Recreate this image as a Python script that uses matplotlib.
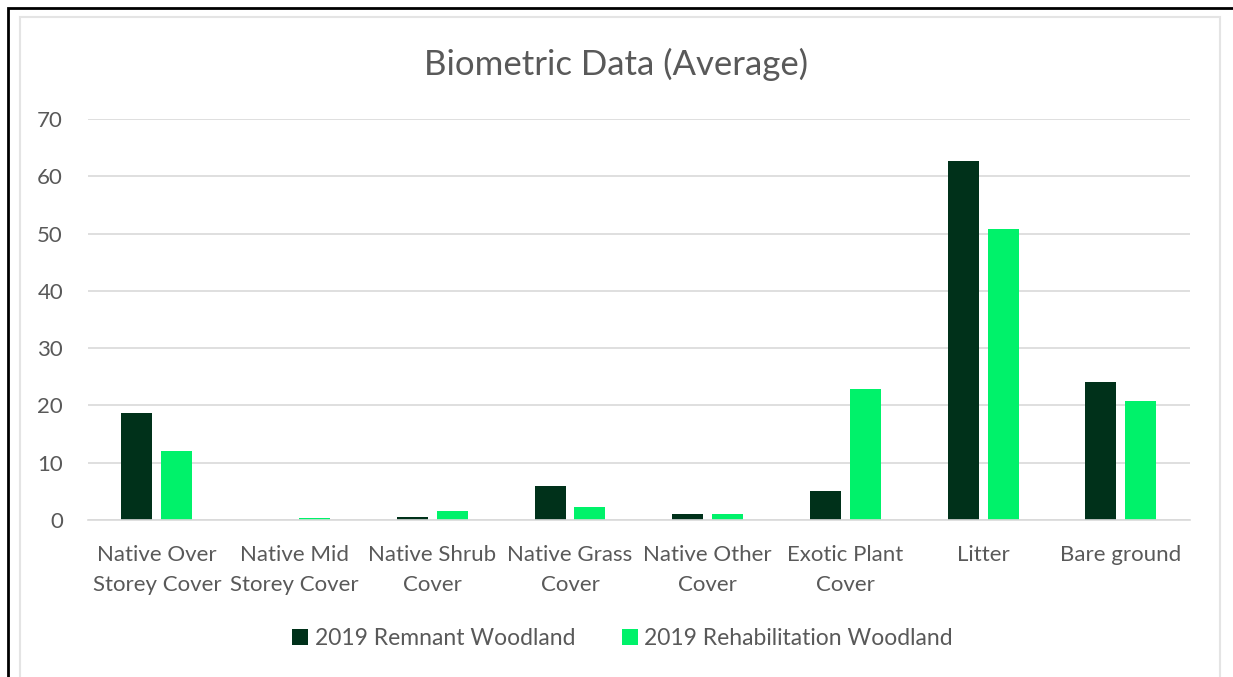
import matplotlib
matplotlib.use('Agg')
import matplotlib.pyplot as plt
from matplotlib.patches import Rectangle
import numpy as np

plt.rcParams['font.family'] = ['Lato', 'DejaVu Sans']

# chart data
categories = ['Native Over\nStorey Cover', 'Native Mid\nStorey Cover', 'Native Shrub\nCover',
              'Native Grass\nCover', 'Native Other\nCover', 'Exotic Plant\nCover', 'Litter', 'Bare ground']
remnant = [18.7, 0.0, 0.5, 5.9, 1.1, 5.1, 62.7, 24.1]
rehab = [12.1, 0.4, 1.5, 2.3, 1.1, 22.8, 50.8, 20.7]
series_names = ['2019 Remnant Woodland', '2019 Rehabilitation Woodland']

dark_green = '#00311A'
bright_green = '#00F26A'
text_grey = '#595959'

fig = plt.figure(figsize=(12.33, 6.77), dpi=100)
ax = fig.add_axes([0.0714, 0.232, 0.8935, 0.592])

x = np.arange(len(categories))
w = 0.225
ax.bar(x - 0.145, remnant, w, color=dark_green, label=series_names[0])
ax.bar(x + 0.145, rehab, w, color=bright_green, label=series_names[1])

ax.set_xlim(-0.5, len(categories) - 0.5)
ax.set_ylim(0, 70)
ax.set_yticks(range(0, 71, 10))
ax.yaxis.grid(True, color='#D9D9D9', linewidth=1.2)
ax.set_axisbelow(True)
for s in ['top', 'right', 'left']:
    ax.spines[s].set_visible(False)
ax.spines['bottom'].set_color('#D9D9D9')
ax.spines['bottom'].set_linewidth(1.2)

ax.set_xticks(x)
ax.set_xticklabels(categories, fontsize=16, color=text_grey, linespacing=1.65)
ax.tick_params(axis='x', length=0, pad=18)
ax.tick_params(axis='y', length=0, pad=18, labelsize=16, labelcolor=text_grey)

fig.text(0.5, 0.905, 'Biometric Data (Average)', ha='center', va='center',
         fontsize=25, color=text_grey)

ax.legend(loc='center', bbox_to_anchor=(0.505, 0.057), bbox_transform=fig.transFigure,
          ncol=2, frameon=False, fontsize=16.5, labelcolor=text_grey,
          handlelength=0.7, handleheight=0.7, handletextpad=0.3, columnspacing=2.0)

# light chart-area frame and black outer border
fig.patches.append(Rectangle((20 / 1233, -0.1), 1200 / 1233, 1 - 17 / 677 + 0.1,
                             transform=fig.transFigure, fill=False,
                             edgecolor='#E4E4E4', linewidth=1.5))
fig.patches.append(Rectangle((8 / 1233, -0.1), 1.1, 1 - 8 / 677 + 0.1,
                             transform=fig.transFigure, fill=False,
                             edgecolor='black', linewidth=2))

fig.savefig('out.png', dpi=100)
